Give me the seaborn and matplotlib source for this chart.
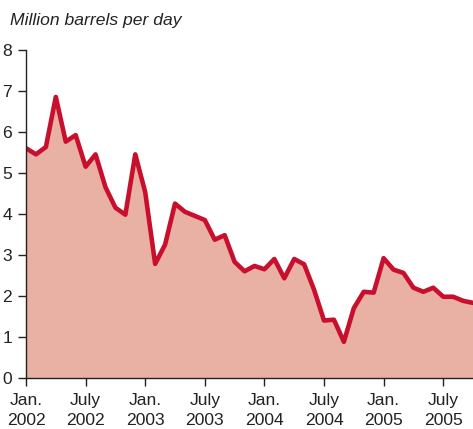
import matplotlib
matplotlib.use("Agg")
import matplotlib.pyplot as plt
import numpy as np
import pandas as pd
import seaborn as sns

# monthly values, Jan. 2002 .. Oct. 2005
months = pd.date_range("2002-01-01", "2005-10-01", freq="MS")
values = [5.60, 5.45, 5.63, 6.85, 5.76, 5.92, 5.15, 5.45, 4.65, 4.15, 3.98, 5.45,
          4.53, 2.78, 3.25, 4.25, 4.05, 3.95, 3.85, 3.37, 3.48, 2.83, 2.60, 2.73,
          2.65, 2.90, 2.43, 2.90, 2.77, 2.15, 1.40, 1.42, 0.88, 1.70, 2.10, 2.08,
          2.92, 2.64, 2.56, 2.20, 2.10, 2.20, 1.98, 1.98, 1.88, 1.83]
tick_labels = ["Jan.\n2002", "July\n2002", "Jan.\n2003", "July\n2003",
               "Jan.\n2004", "July\n2004", "Jan.\n2005", "July\n2005"]
y_ticks = [0, 1, 2, 3, 4, 5, 6, 7, 8]
y_label = "Million barrels per day"

line_color = "#C8102E"
fill_color = "#E9B1A4"

sns.set_style("ticks")
plt.rcParams["font.family"] = ["Liberation Sans", "DejaVu Sans"]

df = pd.DataFrame({"month": np.arange(len(values)), "value": values})

fig = plt.figure(figsize=(4.73, 4.29), dpi=100)
ax = fig.add_axes([0.055, 0.119, 0.945, 0.765])

ax.fill_between(df["month"], 0, df["value"], color=fill_color, lw=0, zorder=1)
sns.lineplot(data=df, x="month", y="value", color=line_color, lw=3.3, ax=ax, zorder=2)

ax.set_xlim(0, len(values) - 1)
ax.set_ylim(0, 8)
ax.set_xticks(np.arange(0, len(values), 6))
ax.set_xticklabels(tick_labels, linespacing=1.4)
ax.set_yticks(y_ticks)
ax.set_xlabel("")
ax.set_ylabel("")

for side in ["top", "right"]:
    ax.spines[side].set_visible(False)
for side in ["left", "bottom"]:
    ax.spines[side].set_color("#222222")
    ax.spines[side].set_linewidth(1.0)

ax.tick_params(axis="both", labelsize=12.6, colors="#222222", length=6, width=1.0)
ax.tick_params(axis="x", pad=5)
ax.tick_params(axis="y", pad=4)

fig.text(0.021, 0.953, y_label, fontsize=12.6, style="italic", color="#222222",
         va="center", ha="left")

fig.savefig("out.png", dpi=100)
